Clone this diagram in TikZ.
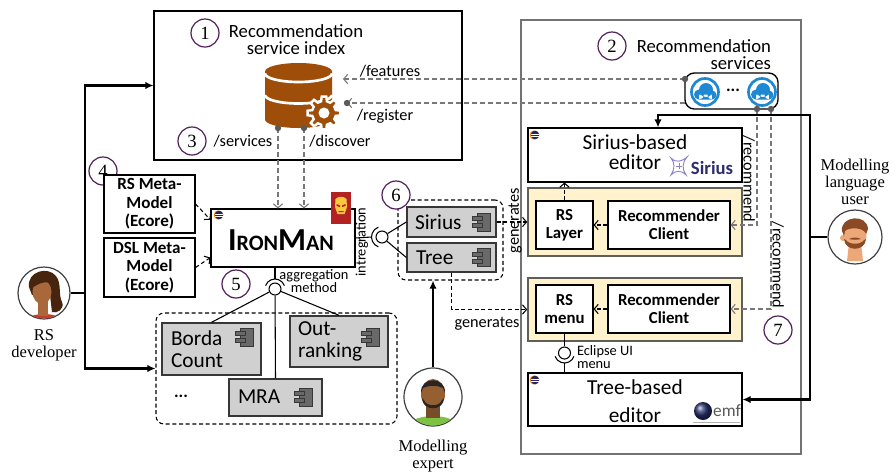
\documentclass[tikz,border=0pt]{standalone}
\usepackage{fontspec}
\setmainfont{Carlito}
\newfontfamily\serifface{Liberation Serif}
\usetikzlibrary{fit,arrows.meta,calc}

\definecolor{dbbrown}{RGB}{158,78,8}
\definecolor{numpurple}{RGB}{80,30,90}
\definecolor{conngray}{RGB}{120,120,120}
\definecolor{dotgray}{RGB}{90,90,90}
\definecolor{compfill}{RGB}{208,208,208}
\definecolor{compedge}{RGB}{55,55,55}
\definecolor{iconfill}{RGB}{105,105,105}
\definecolor{cream}{RGB}{255,242,204}
\definecolor{creamedge}{RGB}{95,95,85}
\definecolor{cloudblue}{RGB}{30,136,210}
\definecolor{siriusnavy}{RGB}{45,45,110}
\definecolor{siriuslilac}{RGB}{140,130,205}
\definecolor{ironred}{RGB}{178,34,34}
\definecolor{irongold}{RGB}{250,200,60}
\definecolor{eclipsenavy}{RGB}{44,34,85}
\definecolor{eclipseorange}{RGB}{247,148,30}
\definecolor{emfblue}{RGB}{40,50,110}
\definecolor{hairdark}{RGB}{70,36,14}
\definecolor{skinbrown}{RGB}{168,104,60}
\definecolor{skindark}{RGB}{150,95,50}
\definecolor{skinlight}{RGB}{236,168,120}
\definecolor{hairbrown}{RGB}{138,74,36}
\definecolor{shirtred}{RGB}{200,60,45}
\definecolor{shirtgreen}{RGB}{125,194,66}

\newcommand\fTitle{\fontsize{14}{12.8}\selectfont}
\newcommand\fEd{\fontsize{16}{15}\selectfont}
\newcommand\fTreeEd{\fontsize{16}{21}\selectfont}
\newcommand\fMeta{\bfseries\fontsize{12.8}{14}\selectfont}
\newcommand\fClient{\bfseries\fontsize{12.6}{13.5}\selectfont}
\newcommand\fComp{\fontsize{16}{16.5}\selectfont}
\newcommand\fLbl{\fontsize{12.2}{12}\selectfont}
\newcommand\fSmall{\fontsize{10.8}{10}\selectfont}
\newcommand\fPeople{\serifface\fontsize{12.4}{12.75}\selectfont}

\tikzset{
  box/.style={draw=black, line width=0.8pt, fill=white, inner sep=0pt},
  svcframe/.style={draw=black!55, line width=1.1pt, fill=white, inner sep=0pt},
  compbox/.style={draw=compedge, fill=compfill, line width=1pt, inner sep=0pt},
  creambox/.style={draw=creamedge, fill=cream, line width=1.2pt, inner sep=0pt},
  grouping/.style={draw=black, dash pattern=on 3pt off 2pt, rounded corners=6pt, line width=0.8pt, inner sep=0pt},
  txt/.style={inner sep=0pt, outer sep=0pt},
  numc/.style={circle, draw=numpurple, line width=0.9pt, minimum size=21pt, inner sep=0pt, fill=white,
    font=\serifface\fontsize{14}{14}\selectfont},
  ballnode/.style={circle, draw=black, line width=0.8pt, fill=white, minimum size=9pt, inner sep=0pt},
  person/.style={circle, draw=black!75, line width=0.9pt, fill=white, inner sep=0pt},
  svcdash/.style={conngray, dash pattern=on 3.5pt off 2.5pt, line width=0.8pt},
  blkdash/.style={black, dash pattern=on 3pt off 2pt, line width=0.8pt},
  barb/.style={-{Straight Barb[length=3pt,width=7pt]}},
  userline/.style={black, line width=1.8pt},
  userarrow/.style={userline, -{Latex[length=6pt,width=5.5pt]}},
  compicon/.pic={
    \draw[draw=compedge, fill=iconfill, line width=0.6pt] (-5,-9) rectangle (8,9);
    \draw[draw=compedge, fill=iconfill, line width=0.6pt] (-10,-5.5) rectangle (0,-1.5);
    \draw[draw=compedge, fill=iconfill, line width=0.6pt] (-10,1.5) rectangle (0,5.5);
  },
  cloudicon/.pic={
    \draw[cloudblue, line width=2pt, fill=white] (0,0) circle[radius=13.5];
    \fill[cloudblue] (-6,2.5) circle[radius=5] (7,3) circle[radius=4.5] (1,-2) circle[radius=7]
      (-6,2.5) rectangle (7,7.5);
  },
  eclipseicon/.pic={
    \fill[eclipseorange] (-0.8,0) circle[radius=4.6];
    \fill[eclipsenavy] (0,0) circle[radius=4.3];
    \draw[white, line width=0.5pt] (-4,-0.9) -- (4,-0.9) (-4,0.9) -- (4,0.9);
  }
}

\begin{document}
\begin{tikzpicture}[x=0.75pt, y=-0.75pt]
\useasboundingbox (0,0) rectangle (896,472);

% ---------- service index ----------
\node[box, fit={(154,11)(462,160)}] (idx) {};
\node[numc] (n1) at (205,33) {1};
\node[txt, font=\fTitle, align=center] (idxtitle) at (296,40) {Recommendation\\service index};

% database with gear
\fill[dbbrown] (265,71.5) -- (265,119.5) arc[start angle=180, end angle=0, x radius=33.5, y radius=8.5]
  -- (332,71.5) arc[start angle=0, end angle=-180, x radius=33.5, y radius=8.5] -- cycle;
\draw[white, line width=2pt] (265,73.5) arc[start angle=180, end angle=0, x radius=33.5, y radius=8.5];
\draw[white, line width=2pt] (265,95) arc[start angle=180, end angle=0, x radius=33.5, y radius=8.5];
\filldraw[fill=dbbrown, draw=white, line width=1.8pt, shift={(324,113)}]
  (-14:12) \foreach \k in {0,...,7} { -- ({\k*45-14}:12) -- ({\k*45-8}:16.5) -- ({\k*45+8}:16.5) -- ({\k*45+14}:12) } -- cycle;
\fill[white] (324,113) circle[radius=5.5];

\node[txt, font=\fLbl] (lfeat) at (390,71) {/features};
\node[txt, font=\fLbl] (lreg) at (385,116) {/register};
\node[numc] (n3) at (192,141) {3};
\node[txt, font=\fLbl] (lserv) at (243,141) {/services};
\node[txt, font=\fLbl] (ldisc) at (340,141) {/discover};

% ---------- recommendation services ----------
\node[svcframe, fit={(521,20)(801,454)}] (svc) {};
\node[numc] (n2) at (612,46) {2};
\node[txt, font=\fTitle, align=right, anchor=east] (svctitle) at (771,55) {Recommendation\\services};
\node[draw=black, line width=1pt, rounded corners=7pt, fill=white, inner sep=0pt, fit={(685,73)(778,109)}] (cloud) {};
\pic at (705,92) {cloudicon};
\pic at (762,92) {cloudicon};
\node[txt, font=\bfseries\fontsize{13}{13}\selectfont] (cdots) at (733,90) {...};

% Sirius-based editor
\node[box, fit={(528,128)(742,182)}] (sed) {};
\pic at (535,135) {eclipseicon};
\node[txt, font=\fEd, align=center] (sedtext) at (635,152) {Sirius-based\\editor};
\draw[siriuslilac, line width=0.7pt] (671,158) .. controls (676,163) and (681,162) .. (687,157)
  .. controls (682,163) and (682,169) .. (686,175) .. controls (681,170) and (676,170) .. (671,175)
  .. controls (675,169) and (675,163) .. (671,158) -- cycle;
\draw[siriuslilac, line width=0.5pt] (679,163) -- (679,169) (676,166) -- (682,166);
\node[txt, font=\bfseries\fontsize{14}{14}\selectfont, text=siriusnavy] (siriuslogo) at (712,168) {Sirius};

% Sirius layer group
\node[creambox, fit={(528,188)(742,256)}] (y1) {};
\node[box, fit={(536,201)(593,249)}] (rslayer) {};
\node[txt, font=\fClient, align=center] (rslayertext) at (rslayer) {RS\\Layer};
\node[box, fit={(608,201)(730,249)}] (client1) {};
\node[txt, font=\fClient, align=center] (client1text) at (client1) {Recommender\\Client};

% tree menu group
\node[creambox, fit={(528,278)(742,341)}] (y2) {};
\node[box, fit={(536,285)(593,333)}] (rsmenu) {};
\node[txt, font=\fClient, align=center] (rsmenutext) at (rsmenu) {RS\\menu};
\node[box, fit={(608,285)(730,333)}] (client2) {};
\node[txt, font=\fClient, align=center] (client2text) at (client2) {Recommender\\Client};

% tree-based editor
\node[box, fit={(528,373)(742,426)}] (ted) {};
\pic at (535,380) {eclipseicon};
\node[txt, font=\fTreeEd, align=center] (tedtext) at (635,401) {Tree-based\\editor};
\shade[ball color=emfblue] (703,411) circle[radius=9];
\node[txt, font=\fontsize{13}{13}\selectfont, text=black!65] (emftext) at (727,411) {emf};
\draw[black!30, line width=0.6pt] (693,422) -- (740,422);

% Eclipse UI menu interface
\node[ballnode] (eball) at (564.5,353) {};
\draw[black, line width=0.8pt] (rsmenu.south) -- (eball.north);
\draw[black, line width=0.8pt] ([shift={(20:10)}]eball.center) arc[start angle=20, end angle=160, radius=10];
\draw[black, line width=0.8pt] ([yshift=-7.5pt]eball.center) -- (eball.center |- ted.north);
\node[txt, font=\fSmall, align=left, anchor=west] (eclabel) at (577,357) {Eclipse UI\\menu};

% ---------- IronMan ----------
\node[box, fit={(211,209)(355,267)}] (iron) {};
\pic at (219,215) {eclipseicon};
\node[txt, font=\bfseries] (irontext) at (281,240)
  {\fontsize{24}{24}\selectfont I\fontsize{16.5}{16.5}\selectfont RON\fontsize{24}{24}\selectfont M\fontsize{16.5}{16.5}\selectfont AN};
\node[fill=ironred, minimum width=15pt, minimum height=24pt, inner sep=0pt] (ironlogo) at (341,208) {};
\fill[irongold] (335.5,199) .. controls (338,196) and (344,196) .. (346.5,199) -- (347,207) -- (344.5,214) -- (337.5,214) -- (335,207) -- cycle;
\fill[ironred] (336.5,204) -- (340,205.5) -- (340,207) -- (336.5,206) -- cycle
               (345.5,204) -- (342,205.5) -- (342,207) -- (345.5,206) -- cycle
               (338.5,211) rectangle (343.5,212);

% meta-models
\node[numc] (n4) at (103,171) {4};
\node[box, fit={(104,175)(195,233)}] (rsmm) {};
\node[txt, font=\fMeta, align=center] (rsmmtext) at (rsmm) {RS Meta-\\Model\\(Ecore)};
\node[box, fit={(104,238)(195,297)}] (dslmm) {};
\node[txt, font=\fMeta, align=center] (dslmmtext) at (dslmm) {DSL Meta-\\Model\\(Ecore)};
\draw[blkdash, barb] (rsmm.east) -- ($(iron.north west)!0.19!(iron.south west)$);
\draw[blkdash, barb] (dslmm.east) -- ($(iron.north west)!0.83!(iron.south west)$);

% aggregation methods
\node[grouping, fit={(156,313)(397,424)}] (agg) {};
\node[compbox, fit={(162,323)(261,375)}] (borda) {};
\node[txt, font=\fComp, align=left, anchor=west] (bordatext) at (171,349) {Borda\\Count};
\pic at (245,337) {compicon};
\node[compbox, fit={(290,316)(388,367)}] (outrank) {};
\node[txt, font=\fComp, align=left, anchor=west] (outranktext) at (298,341) {Out-\\ranking};
\pic at (371,337) {compicon};
\node[compbox, fit={(229,379)(322,416)}] (mra) {};
\node[txt, font=\fComp, anchor=west] (mratext) at (238,397) {MRA};
\pic at (304,397) {compicon};
\node[txt, font=\bfseries\fontsize{13}{13}\selectfont] (aggdots) at (181,396) {...};

\node[numc] (n5) at (236,284) {5};
\node[ballnode] (aball) at (275,289) {};
\draw[black, line width=0.8pt] (aball.center |- iron.south) -- ([yshift=7.5pt]aball.center);
\draw[black, line width=0.8pt] ([shift={(200:10)}]aball.center) arc[start angle=200, end angle=340, radius=10];
\draw[black, line width=0.8pt] (aball) -- (borda.north);
\draw[black, line width=0.8pt] (aball) -- (outrank.north);
\draw[black, line width=0.8pt] (aball) -- (mra.north);
\node[txt, font=\fSmall, align=center] (agglabel) at (314,281) {aggregation\\method};

% ---------- editor generators ----------
\node[grouping, fit={(398,200)(503,280)}] (ext) {};
\node[compbox, fit={(407,207)(496,237)}] (scomp) {};
\node[txt, font=\fComp, anchor=west] (scomptext) at (415,222) {Sirius};
\pic at (482,222) {compicon};
\node[compbox, fit={(407,243)(496,272)}] (tcomp) {};
\node[txt, font=\fComp, anchor=west] (tcomptext) at (416,257.5) {Tree};
\pic at (482,257.5) {compicon};
\node[numc] (n6) at (396,195) {6};

\node[ballnode] (iball) at (382,237) {};
\draw[black, line width=0.8pt] (iron.east) -- ([xshift=-7.8pt]iball.center);
\draw[black, line width=0.8pt] ([shift={(110:10.5)}]iball.center) arc[start angle=110, end angle=250, radius=10.5];
\draw[black, line width=0.8pt] (iball) -- (scomp.west);
\draw[black, line width=0.8pt] (iball) -- (tcomp.west);
\node[txt, font=\fSmall, rotate=90] (intlabel) at (362,242) {intregration};

\draw[blkdash, barb] (scomp.east) -- (y1.west);
\node[txt, font=\fLbl, rotate=90] (gen1) at (515,221) {generates};
\draw[blkdash, barb] (tcomp.south) |- (y2.west);
\node[txt, font=\fLbl] (gen2) at (487,324) {generates};

% inner editor links
\draw[blkdash, barb] (rslayer.north) -- (rslayer.north |- sed.south);
\draw[blkdash, barb] (client1.west) -- (rslayer.east);
\draw[blkdash, barb] (client2.west) -- (rsmenu.east);

% ---------- service calls ----------
\coordinate (featdot) at (685,79);
\coordinate (feattip) at (343,79);
\coordinate (regstart) at (685,103);
\coordinate (regdot) at (347,103);
\coordinate (servdot) at (278,128);
\coordinate (discdot) at (304,128);
\coordinate (rec1dot) at (757,109);
\coordinate (rec2dot) at (771,109);

\draw[svcdash, barb] (featdot) -- (feattip);
\draw[svcdash, barb] (regstart) -- (regdot);
\draw[svcdash, barb] (servdot) -- (servdot |- iron.north);
\draw[svcdash, barb] (discdot) -- (discdot |- iron.north);
\draw[svcdash, barb] (rec1dot) |- (client1.east);
\draw[svcdash, barb] (rec2dot) |- (client2.east);
\foreach \p in {featdot,regdot,servdot,discdot,rec1dot,rec2dot}
  \fill[dotgray] (\p) circle[radius=3.2];

\node[txt, font=\fLbl, rotate=-90] (rec1label) at (749,179) {/recommend};
\node[txt, font=\fLbl, rotate=-90] (rec2label) at (778,265) {/recommend};
\node[numc] (n7) at (778,330) {7};

% ---------- people ----------
% RS developer
\node[person, minimum size=39pt] (dev) at (44,293) {};
\begin{scope}[shift={(44,293)}]
  \clip (0,0) circle[radius=25.5];
  \fill[hairdark] (-15,-6) .. controls (-17,-22) and (4,-27) .. (12,-17) .. controls (18,-9) and (14,1) .. (18,9)
    .. controls (21,16) and (13,21) .. (8,19) -- (6,2) -- (-12,2) -- cycle;
  \fill[shirtred] (0,30) ellipse[x radius=20, y radius=9];
  \fill[skinbrown] (-6,8) rectangle (4,23);
  \fill[skinbrown] (-2,-1) ellipse[x radius=9.5, y radius=12];
  \fill[hairdark] (-13,-4) .. controls (-13,-18) and (6,-21) .. (10,-9) .. controls (3,-13) and (-6,-10) .. (-13,-4) -- cycle;
\end{scope}
\node[txt, font=\fPeople, align=center] (devlabel) at (44,345) {RS\\developer};

% modelling expert
\node[person, minimum size=43.5pt] (expert) at (433,397) {};
\begin{scope}[shift={(433,397)}]
  \clip (0,0) circle[radius=28.5];
  \fill[shirtgreen] (0,32) ellipse[x radius=27, y radius=13];
  \fill[skindark!80!black] (-7,8) rectangle (7,21);
  \fill[skindark] (0,-3) ellipse[x radius=12, y radius=15];
  \fill[black!85] (-12,-4) .. controls (-13,-21) and (13,-21) .. (12,-4) -- (10,-9) .. controls (4,-12) and (-4,-12) .. (-10,-9) -- cycle;
  \fill[black!85] (-11,1) .. controls (-10,15) and (10,15) .. (11,1) -- (9,3) .. controls (7,10) and (-7,10) .. (-9,3) -- cycle;
\end{scope}
\node[txt, font=\fPeople, align=center] (expertlabel) at (433,456) {Modelling\\expert};

% modelling language user
\node[person, minimum size=40.5pt] (mlu) at (855,237) {};
\begin{scope}[shift={(855,237)}]
  \clip (0,0) circle[radius=26.5];
  \fill[skinlight] (-6,6) -- (6,6) -- (8,24) -- (-8,24) -- cycle;
  \fill[skinlight] (-12,1) circle[radius=3];
  \fill[skinlight] (0,-2) ellipse[x radius=11.5, y radius=14];
  \fill[hairbrown] (-13,-6) .. controls (-15,-21) and (12,-24) .. (13,-8) -- (11,-3) .. controls (9,-10) and (-6,-10) .. (-10,-6) -- (-11,-1) -- cycle;
  \fill[hairbrown] (-11,2) .. controls (-10,15) and (10,15) .. (11,2) -- (9,3) .. controls (6,8) and (-6,8) .. (-9,3) -- cycle;
  \fill[hairbrown] (-6,2) .. controls (-2,0) and (2,0) .. (6,2) .. controls (2,3) and (-2,3) .. (-6,2);
\end{scope}
\node[txt, font=\fPeople, align=center] (mlulabel) at (855,182) {Modelling\\language\\user};

% ---------- user links ----------
\coordinate (jdev) at (85,293);
\draw[userline] (dev.east) -- (jdev);
\draw[userarrow] (jdev) |- (idx.west);
\draw[userarrow] (jdev) |- (agg.west);

\coordinate (jmlu) at (810,237);
\coordinate (jtop) at (810,115);
\draw[userline] (mlu.west) -- (jmlu);
\draw[userarrow] (jmlu) -- (jtop) -| ([xshift=17.25pt]sed.north);
\draw[userarrow] (jmlu) |- (ted.east);

\draw[userarrow] (expert.north) -- (expert.north |- ext.south);

\end{tikzpicture}
\end{document}
